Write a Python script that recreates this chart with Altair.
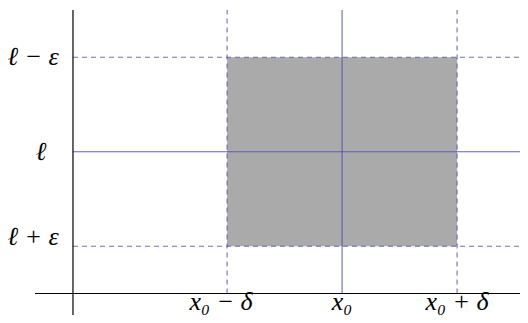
import altair as alt
import pandas as pd

# Logical values
x0 = 2.34
delta = 1.0
ell = 1.5
eps = 1.0

x_min, x_max = -0.565, 3.887
y_min, y_max = -0.2275, 3.021

x_ticks = [x0 - delta, x0, x0 + delta]
x_labels = ["x₀\u2005−\u2005δ", "x₀", "x₀\u2005+\u2005δ"]
y_ticks = [ell + eps, ell, ell - eps]
y_labels = ["ℓ\u2005−\u2005ε", "ℓ", "ℓ\u2005+\u2005ε"]

axis_top = 3.0
axis_bottom = y_min
axis_left = -0.33

xs = alt.Scale(domain=[x_min, x_max], nice=False, zero=False)
ys = alt.Scale(domain=[y_min, y_max], nice=False, zero=False)

BLUE = "#5555b0"
FONT = "Liberation Serif"

rect_df = pd.DataFrame({"x": [x0 - delta], "x2": [x0 + delta], "y": [ell - eps], "y2": [ell + eps]})
rect = alt.Chart(rect_df).mark_rect(fill="#aaaaaa").encode(
    x=alt.X("x:Q", scale=xs, axis=None), x2="x2:Q",
    y=alt.Y("y:Q", scale=ys, axis=None), y2="y2:Q")

h_dash_df = pd.DataFrame({"y": [ell - eps, ell + eps], "x": [0, 0], "x2": [x_max, x_max]})
h_dash = alt.Chart(h_dash_df).mark_rule(color=BLUE, strokeDash=[5, 4], strokeWidth=1.1, opacity=0.85).encode(
    x=alt.X("x:Q", scale=xs, axis=None), x2="x2:Q", y=alt.Y("y:Q", scale=ys, axis=None))

h_solid_df = pd.DataFrame({"y": [ell], "x": [0], "x2": [x_max]})
h_solid = alt.Chart(h_solid_df).mark_rule(color=BLUE, strokeWidth=1.1, opacity=0.9).encode(
    x=alt.X("x:Q", scale=xs, axis=None), x2="x2:Q", y=alt.Y("y:Q", scale=ys, axis=None))

v_dash_df = pd.DataFrame({"x": [x0 - delta, x0 + delta], "y": [0, 0], "y2": [axis_top, axis_top]})
v_dash = alt.Chart(v_dash_df).mark_rule(color=BLUE, strokeDash=[5, 4], strokeWidth=1.1, opacity=0.85).encode(
    x=alt.X("x:Q", scale=xs, axis=None), y=alt.Y("y:Q", scale=ys, axis=None), y2="y2:Q")

v_solid_df = pd.DataFrame({"x": [x0], "y": [0], "y2": [axis_top]})
v_solid = alt.Chart(v_solid_df).mark_rule(color=BLUE, strokeWidth=1.1, opacity=0.9).encode(
    x=alt.X("x:Q", scale=xs, axis=None), y=alt.Y("y:Q", scale=ys, axis=None), y2="y2:Q")

vaxis_df = pd.DataFrame({"x": [0], "y": [axis_bottom], "y2": [axis_top]})
vaxis = alt.Chart(vaxis_df).mark_rule(color="black", strokeWidth=1.2).encode(
    x=alt.X("x:Q", scale=xs, axis=None), y=alt.Y("y:Q", scale=ys, axis=None), y2="y2:Q")

haxis_df = pd.DataFrame({"y": [0], "x": [axis_left], "x2": [x_max]})
haxis = alt.Chart(haxis_df).mark_rule(color="black", strokeWidth=1.2).encode(
    x=alt.X("x:Q", scale=xs, axis=None), x2="x2:Q", y=alt.Y("y:Q", scale=ys, axis=None))

xl_df = pd.DataFrame({"x": x_ticks, "label": x_labels})
x_dx = [-6, 0, 0]
x_texts = [
    alt.Chart(xl_df).transform_filter(alt.datum.label == lab).mark_text(
        font=FONT, fontStyle="italic", fontSize=26, baseline="alphabetic", align="center", dx=d
    ).encode(x=alt.X("x:Q", scale=xs, axis=None), y=alt.value(302), text="label:N")
    for lab, d in zip(x_labels, x_dx)
]

yl_df = pd.DataFrame({"y": y_ticks, "label": y_labels})
y_shift = [(0, 0), (8, 0), (0, -9)]
y_texts = [
    alt.Chart(yl_df).transform_filter(alt.datum.label == lab).mark_text(
        font=FONT, fontStyle="italic", fontSize=26, baseline="middle", align="center", dx=sx, dy=sy
    ).encode(y=alt.Y("y:Q", scale=ys, axis=None), x=alt.value(25), text="label:N")
    for lab, (sx, sy) in zip(y_labels, y_shift)
]

chart = alt.layer(rect, h_solid, v_solid, h_dash, v_dash, vaxis, haxis, *x_texts, *y_texts).properties(
    width=512, height=307, padding=0, autosize=alt.AutoSizeParams(type="none")
).configure_view(stroke=None)

chart.save("out.html", embed_options={"renderer": "svg", "actions": False})
